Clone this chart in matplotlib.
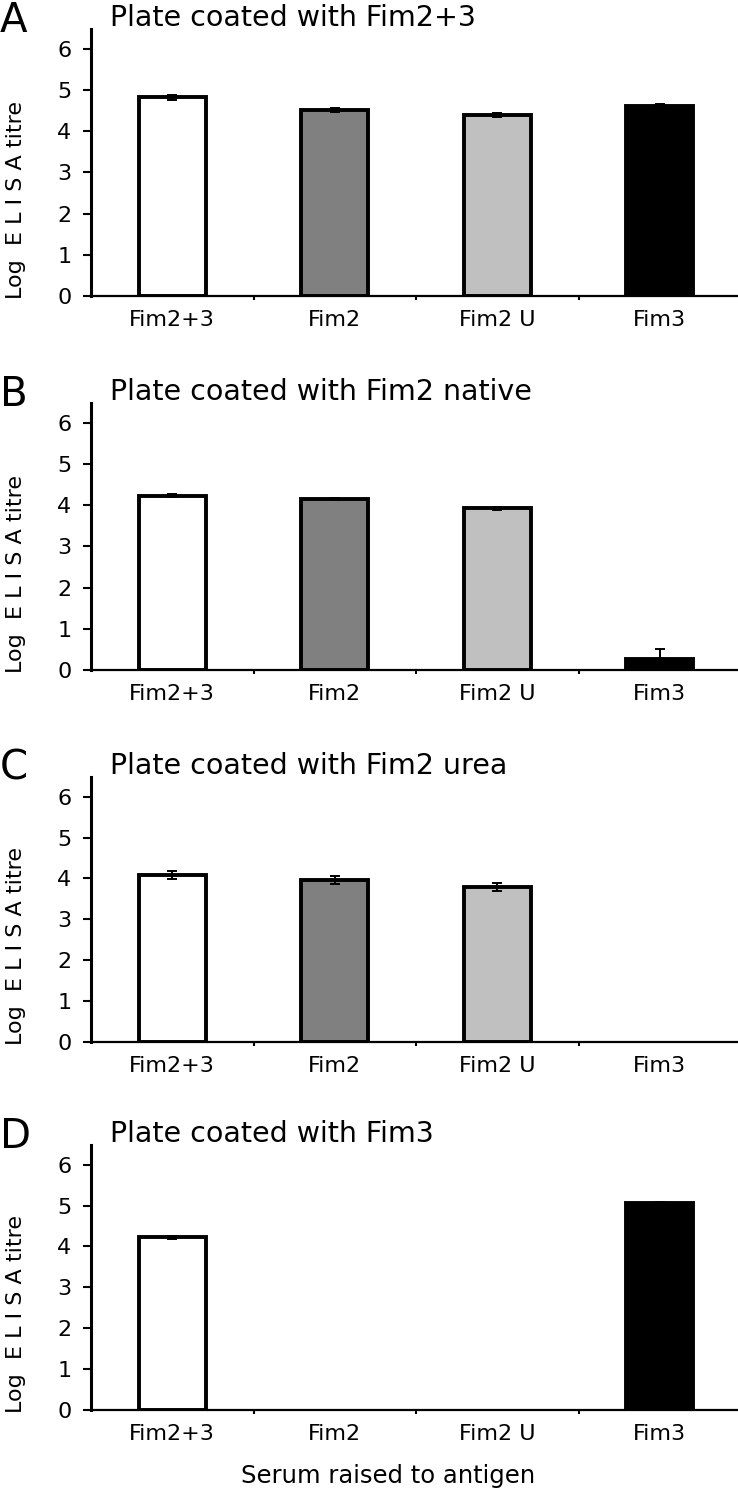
import numpy as np
import matplotlib
matplotlib.use("Agg")
import matplotlib.pyplot as plt

plt.rcParams['font.family'] = ['DejaVu Sans']

# serum groups (x categories)
sera = ["Fim2+3", "Fim2", "Fim2 U", "Fim3"]
bar_colors = ["#ffffff", "#808080", "#c0c0c0", "#000000"]

# one panel per coating antigen
panel_letters = ["A", "B", "C", "D"]
panel_titles = ["Plate coated with Fim2+3", "Plate coated with Fim2 native",
                "Plate coated with Fim2 urea", "Plate coated with Fim3"]

# log ELISA titre (0 = no bar)
titre_A = [4.82, 4.52, 4.40, 4.62]
titre_B = [4.23, 4.15, 3.92, 0.27]
titre_C = [4.08, 3.96, 3.80, 0.0]
titre_D = [4.22, 0.0, 0.0, 5.06]

err_A = [0.06, 0.05, 0.05, 0.05]
err_B = [0.03, 0.03, 0.03, 0.25]
err_C = [0.10, 0.09, 0.10, 0.0]
err_D = [0.03, 0.0, 0.0, 0.03]

titres = [titre_A, titre_B, titre_C, titre_D]
errors = [err_A, err_B, err_C, err_D]

W, H = 738, 1492
fig = plt.figure(figsize=(W / 100, H / 100), dpi=100)

# pixel positions of each panel (axis top, zero line)
tops = [29, 403, 777, 1145]
bottoms = [296, 670, 1042, 1410]
left_px, right_px = 91, 741

x = np.arange(len(sera))
for i in range(4):
    ax = fig.add_axes([left_px / W, 1 - bottoms[i] / H,
                       (right_px - left_px) / W, (bottoms[i] - tops[i]) / H])
    vals = np.array(titres[i])
    errs = np.array(errors[i])
    show = vals > 0
    ax.bar(x[show], vals[show], width=0.41,
           color=[c for c, s in zip(bar_colors, show) if s],
           edgecolor="black", linewidth=2.8, zorder=2)
    ax.errorbar(x[show], vals[show], yerr=errs[show], fmt="none",
                ecolor="black", elinewidth=1.4, capsize=3.5, capthick=1.4,
                zorder=3)

    ax.set_xlim(-0.5, 3.5)
    ax.set_ylim(0, 6.48)
    ax.set_yticks(range(7))
    ax.set_xticks(x)
    ax.set_xticklabels(sera)
    ax.set_xticks(np.arange(0.5, 3.5, 1), minor=True)
    ax.tick_params(axis="x", which="major", length=0, pad=10, labelsize=16)
    ax.tick_params(axis="x", which="minor", length=3, width=1.5, direction="out")
    ax.tick_params(axis="y", labelsize=16, length=6, width=1.5, pad=8)
    for s in ["top", "right"]:
        ax.spines[s].set_visible(False)
    ax.spines["left"].set_linewidth(2.2)
    ax.spines["bottom"].set_linewidth(1.6)

    top_frac = 1 - tops[i] / H
    fig.text(0 / W, top_frac - 3 / H, panel_letters[i], fontsize=29,
             va="baseline", ha="left")
    fig.text(110 / W, top_frac + 3 / H, panel_titles[i], fontsize=20.5,
             va="baseline", ha="left")
    fig.text(16 / W, 1 - (bottoms[i] - 96) / H, "Log  E L I S A titre",
             fontsize=16, rotation=90, va="center", ha="center")

fig.text(388 / W, 1 - 1476 / H, "Serum raised to antigen", fontsize=17.5,
         ha="center", va="center")

fig.savefig("out.png", dpi=100)
